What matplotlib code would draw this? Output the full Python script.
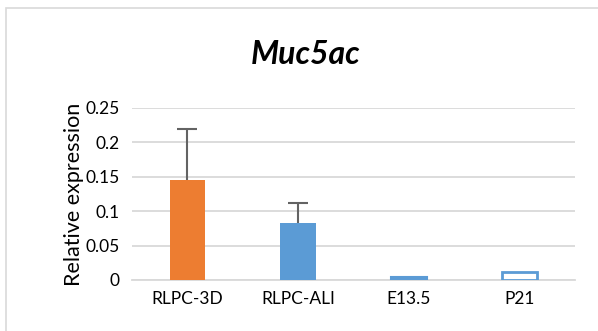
import matplotlib
matplotlib.use("Agg")
from matplotlib import pyplot as plt
from matplotlib.patches import Rectangle

categories = ["RLPC-3D", "RLPC-ALI", "E13.5", "P21"]
values = [0.145, 0.083, 0.005, 0.011]
errors = [0.074, 0.029, 0, 0]
fill_colors = ["#ED7D31", "#5B9BD5", "#5B9BD5", "white"]
edge_colors = ["#ED7D31", "#5B9BD5", "#5B9BD5", "#5B9BD5"]
yticks = [0, 0.05, 0.1, 0.15, 0.2, 0.25]
ytick_labels = ["0", "0.05", "0.1", "0.15", "0.2", "0.25"]

plt.rcParams['font.family'] = ['Lato', 'DejaVu Sans']

fig = plt.figure(figsize=(5.98, 3.31), dpi=100)
ax = fig.add_axes([132/598, 51/331, 443/598, 172/331])

# chart border
fig.patches.append(Rectangle((6/598, -0.1), 1.2, (331-8)/331 + 0.1,
                             transform=fig.transFigure, fill=False,
                             edgecolor="#D9D9D9", linewidth=1.2))

x = list(range(len(categories)))
ax.bar(x, values, width=0.32, color=fill_colors, edgecolor=edge_colors,
       linewidth=[0, 0, 1.5, 2], zorder=3)
eb = ax.errorbar(x[:2], values[:2], yerr=[[0, 0], errors[:2]], fmt="none",
                 ecolor="#636363", elinewidth=1.5, capsize=7, capthick=1.5,
                 zorder=4)
eb[1][0].set_visible(False)  # only the plus side, like Excel

ax.set_xlim(-0.5, 3.5)
ax.set_ylim(0, 0.25)
ax.set_yticks(yticks)
ax.set_yticklabels(ytick_labels)
ax.set_xticks(x)
ax.set_xticklabels(categories)
ax.grid(axis="y", color="#D9D9D9", linewidth=1.3, zorder=0)
for s in ["top", "right", "left"]:
    ax.spines[s].set_visible(False)
ax.spines["bottom"].set_color("#D9D9D9")
ax.spines["bottom"].set_linewidth(1.3)
ax.tick_params(length=0, labelsize=12.5, colors="black", pad=9)
ax.tick_params(axis="x", pad=8)

ax.set_ylabel("Relative expression", fontsize=15.5)
ax.yaxis.set_label_coords(-0.108, 0.5)
fig.text(306/598, 1 - 55/331, "Muc5ac", ha="center", va="center",
         fontsize=23, fontweight="bold", fontstyle="italic")

fig.savefig("out.png", dpi=100)
